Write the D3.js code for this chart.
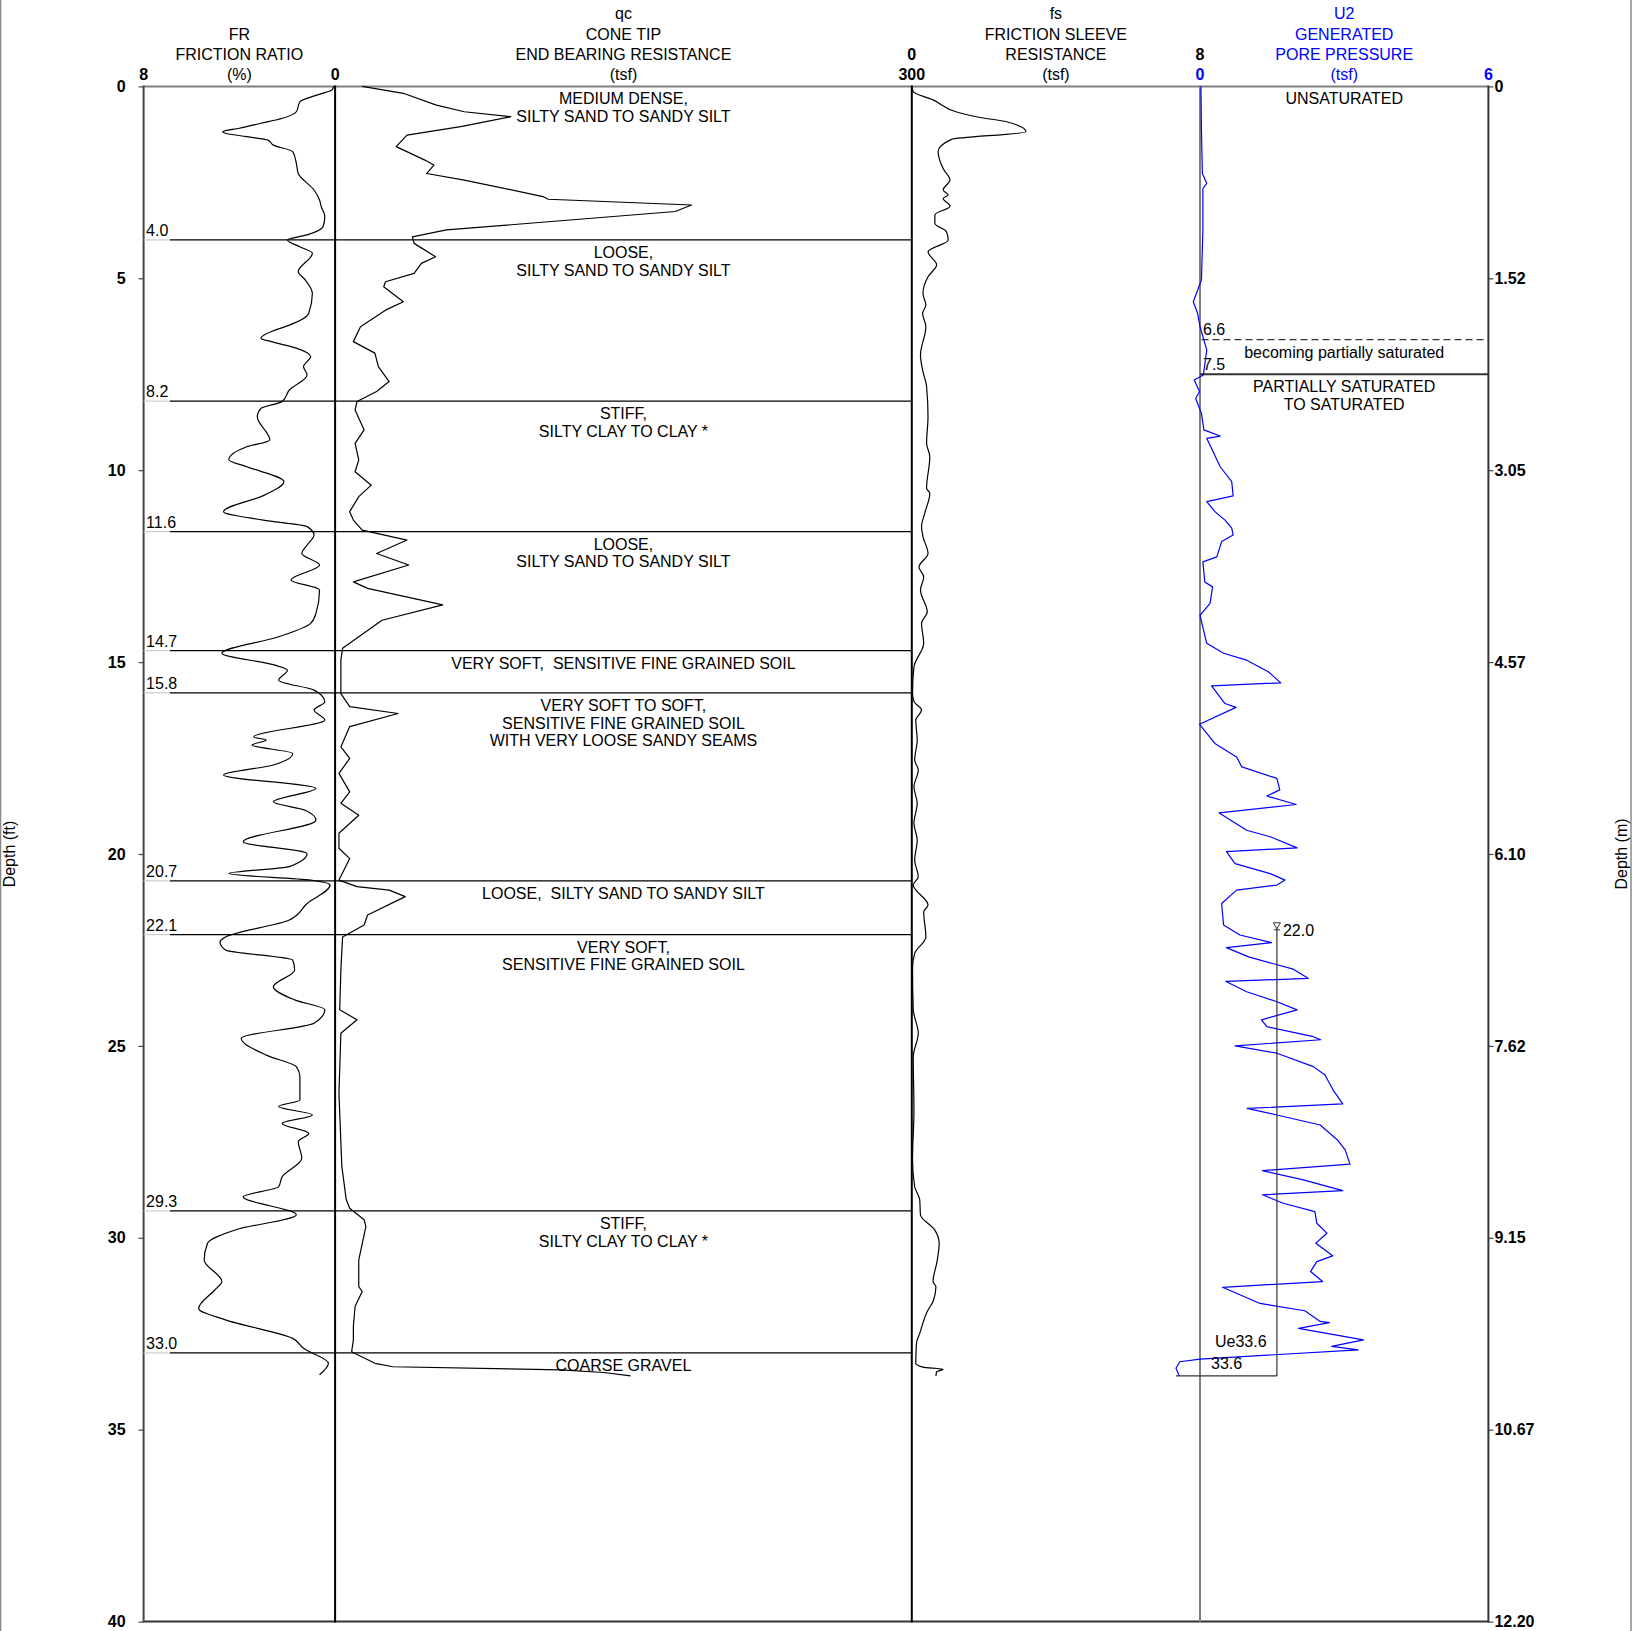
<!DOCTYPE html>
<html>
<head>
<meta charset="utf-8">
<script src="https://cdn.jsdelivr.net/npm/d3@7"></script>
<style>
  body { margin: 0; background: #fff; }
  svg { display: block; font-family: "Liberation Sans", Arial, sans-serif; }
</style>
</head>
<body>
<svg id="chart" width="1632" height="1631"></svg>
<script>
// depth (ft) / value pairs
var frData = [
  [0,0.06],[0.09,0.13],[0.22,0.73],[0.40,1.47],[0.66,1.62],[0.83,2.2],[0.96,3.1],[1.09,4.0],[1.18,4.70],[1.22,4.58],
  [1.31,3.69],[1.40,2.8],[1.53,2.58],[1.70,1.77],[2.0,1.62],[2.27,1.54],[2.7,0.88],[2.96,0.65],[3.13,0.58],[3.39,0.43],
  [3.65,0.50],[3.87,1.17],[4.0,1.99],[4.18,1.47],[4.35,0.95],[4.83,1.54],[5.04,1.25],[5.39,0.95],[5.91,1.10],[6.22,1.91],
  [6.35,2.51],[6.56,3.10],[6.65,2.66],[6.82,1.62],[7.04,1.02],[7.30,1.32],[7.52,1.17],[7.91,1.91],[8.21,2.21],[8.39,3.10],
  [8.61,3.25],[9.21,2.73],[9.39,3.69],[9.73,4.44],[9.91,3.69],[10.30,2.14],[10.65,2.95],[11.08,4.66],[11.30,3.0],[11.47,1.17],
  [11.69,0.88],[11.95,1.17],[12.17,1.39],[12.47,0.65],[12.86,1.84],[13.12,0.65],[13.73,0.80],[13.99,1.02],[14.34,2.36],[14.77,4.73],
  [15.08,2.51],[15.21,1.99],[15.47,2.36],[15.73,0.88],[16.03,0.43],[16.25,0.88],[16.51,0.43],[16.95,3.40],[17.03,2.88],[17.16,3.47],
  [17.38,1.77],[17.68,2.58],[17.94,4.66],[18.29,0.80],[18.64,2.58],[18.86,1.25],[19.12,0.80],[19.68,3.84],[19.99,1.17],[20.33,1.91],
  [20.51,4.44],[20.68,1.02],[20.81,0.21],[21.29,1.17],[21.72,1.91],[22.16,4.58],[22.29,4.81],[22.50,4.58],[22.76,1.77],[23.02,1.69],
  [23.46,2.58],[23.80,1.69],[24.06,0.43],[24.41,0.88],[24.80,3.92],[25.24,2.88],[25.54,1.62],[25.80,1.47],[26.41,1.47],[26.58,2.36],
  [26.80,0.95],[27.02,2.21],[27.28,1.10],[27.49,1.54],[27.93,1.39],[28.41,2.21],[28.67,2.36],[28.93,3.84],[29.40,1.62],[29.79,4.14],
  [30.14,5.33],[30.58,5.47],[31.14,4.73],[31.36,5.03],[31.84,5.70],[32.14,4.58],[32.62,1.77],[32.88,1.32],[33.27,0.28],[33.57,0.65]
];
var qcData = [
  [0,14.1],[0.18,35.5],[0.48,52.3],[0.66,67.2],[0.79,91.4],[1.05,65.3],[1.27,37.4],[1.57,31.8],[1.92,46.7],[2.05,51.4],
  [2.27,47.6],[2.44,67.2],[2.87,108.1],[2.94,110.9],[3.09,185.4],[3.26,177],[3.74,57.9],[3.92,40.2],[4.09,41.1],[4.44,52.3],
  [4.61,44.9],[4.87,41.1],[5.09,26.2],[5.22,25.3],[5.61,35.5],[5.83,26.2],[6.26,13.2],[6.65,9.5],[6.95,20.7],[7.30,22.5],
  [7.69,28.1],[7.95,21.6],[8.21,11.4],[8.43,10.4],[8.95,15.1],[9.30,10.4],[9.73,12.3],[10.04,10.4],[10.39,18.8],[10.69,12.3],
  [11.08,7.6],[11.3,9.5],[11.56,14.1],[11.82,37.4],[12.17,21.6],[12.47,38.3],[12.91,9.5],[13.08,16.9],[13.51,56.0],[13.91,24.4],
  [14.64,3.9],[14.95,3.0],[15.82,3.0],[16.16,7.6],[16.34,32.8],[16.68,7.6],[17.21,3.0],[17.51,7.6],[17.90,2.0],[18.38,7.6],
  [18.68,3.0],[18.99,12.3],[19.46,2.0],[19.85,2.0],[20.12,7.6],[20.68,2.0],[20.85,11.4],[20.94,28.1],[21.11,36.5],[21.59,16.9],
  [21.85,15.1],[22.16,3.9],[23.02,3.0],[24.06,2.4],[24.32,11.4],[24.67,3.0],[26.23,2.0],[28.14,3.5],[29.01,5.8],[29.23,7.6],
  [29.53,15.1],[29.71,16.0],[30.58,12.3],[31.27,12.3],[31.40,14.1],[31.79,10.4],[32.31,9.5],[32.66,9.5],[32.97,8.6],[33.27,20.7],
  [33.36,30.0],[33.44,117.4],[33.51,139.8],[33.60,153.7]
];
var fsData = [
  [0,0],[0.14,0.04],[0.35,0.59],[0.68,1.29],[0.81,1.89],[0.92,2.63],[1.18,3.17],[1.38,1.10],[1.70,0.73],[2.14,0.87],
  [2.44,1.06],[2.70,0.87],[2.83,1.01],[2.92,0.87],[3.12,1.06],[3.35,0.64],[3.57,0.64],[3.78,0.96],[4.00,1.01],[4.31,0.45],
  [4.65,0.69],[4.96,0.45],[5.39,0.31],[5.70,0.39],[5.91,0.30],[6.26,0.39],[7.00,0.24],[7.39,0.30],[7.82,0.41],[8.61,0.45],
  [9.30,0.41],[9.65,0.50],[10.47,0.41],[10.60,0.50],[11.12,0.36],[11.47,0.27],[11.73,0.31],[12.17,0.45],[12.52,0.20],[12.78,0.33],
  [13.12,0.24],[13.69,0.43],[13.99,0.27],[14.51,0.33],[15.12,0.06],[15.82,0.02],[16.03,0.06],[16.25,0.27],[16.51,0.11],[17.03,0.15],
  [17.55,0.08],[17.81,0.18],[18.25,0.06],[18.68,0.15],[19.20,0.06],[19.64,0.15],[20.16,0.08],[20.59,0.18],[20.81,0.04],[21.33,0.45],
  [21.51,0.33],[22.16,0.39],[22.59,0.08],[22.98,0.02],[24.06,0.04],[24.67,0.18],[25.28,0.04],[26.67,0.06],[27.97,0.02],[28.67,0.08],
  [29.01,0.22],[29.40,0.24],[29.80,0.64],[30.14,0.76],[30.62,0.70],[31.14,0.59],[31.27,0.67],[31.66,0.59],[31.88,0.45],[32.49,0.22],
  [32.75,0.13],[33.27,0.11],[33.37,0.31],[33.43,0.87],[33.49,0.69],[33.60,0.67]
];
var u2Data = [
  [0,0.02],[1.14,0.03],[2.27,0.05],[2.53,0.14],[2.66,0.06],[3.74,0.06],[5.04,0.03],[5.61,-0.14],[5.91,-0.05],[6.26,0],
  [6.69,0.10],[6.87,0.14],[7.52,0.07],[7.65,-0.12],[7.95,-0.01],[8.13,-0.09],[8.52,0.03],[8.95,0.08],[9.11,0.42],[9.17,0.14],
  [9.91,0.42],[10.30,0.66],[10.67,0.69],[10.82,0.14],[11.08,0.31],[11.30,0.52],[11.51,0.66],[11.69,0.69],[11.86,0.45],[12.26,0.35],
  [12.39,0.06],[12.91,0.10],[13.04,0.26],[13.47,0.21],[13.78,0],[14.51,0.14],[14.77,0.49],[14.95,0.97],[15.25,1.42],[15.54,1.68],
  [15.62,0.24],[16.08,0.52],[16.18,0.75],[16.62,-0.01],[17.12,0.31],[17.47,0.76],[17.73,0.87],[18.03,1.60],[18.33,1.66],[18.49,1.39],
  [18.71,2.0],[18.93,0.40],[19.38,0.97],[19.55,1.46],[19.84,2.02],[19.94,0.55],[20.25,0.73],[20.51,1.46],[20.68,1.77],[20.81,1.60],
  [20.94,0.76],[21.29,0.45],[21.85,0.49],[22.11,0.83],[22.31,1.49],[22.44,0.55],[22.68,1.01],[23.0,1.94],[23.24,2.25],[23.32,0.54],
  [23.59,0.97],[23.85,1.60],[24.06,2.02],[24.32,1.28],[24.50,1.39],[24.76,2.36],[24.84,2.51],[25.00,0.73],[25.19,1.60],[25.54,2.36],
  [25.76,2.60],[26.15,2.77],[26.51,2.97],[26.63,0.98],[26.80,1.60],[27.06,2.50],[27.45,2.86],[27.71,3.02],[28.08,3.12],[28.25,1.30],
  [28.49,2.15],[28.77,2.97],[28.88,1.30],[29.10,1.73],[29.32,2.39],[29.62,2.43],[29.88,2.64],[30.14,2.41],[30.47,2.76],[30.62,2.43],
  [30.88,2.30],[31.14,2.55],[31.29,0.47],[31.71,1.25],[31.90,2.18],[32.18,2.50],[32.21,2.69],[32.36,2.05],[32.66,3.40],[32.83,2.74],
  [32.92,3.29],[33.16,0],[33.23,-0.42],[33.40,-0.50],[33.60,-0.43]
];

var depthTicks = [0, 5, 10, 15, 20, 25, 30, 35, 40];
var meterLabels = ["0", "1.52", "3.05", "4.57", "6.10", "7.62", "9.15", "10.67", "12.20"];

var layerTops = [0, 4.0, 8.2, 11.6, 14.7, 15.8, 20.7, 22.1, 29.3, 33.0];
var soilNames = [
  ["MEDIUM DENSE,", "SILTY SAND TO SANDY SILT"],
  ["LOOSE,", "SILTY SAND TO SANDY SILT"],
  ["STIFF,", "SILTY CLAY TO CLAY *"],
  ["LOOSE,", "SILTY SAND TO SANDY SILT"],
  ["VERY SOFT,  SENSITIVE FINE GRAINED SOIL"],
  ["VERY SOFT TO SOFT,", "SENSITIVE FINE GRAINED SOIL", "WITH VERY LOOSE SANDY SEAMS"],
  ["LOOSE,  SILTY SAND TO SANDY SILT"],
  ["VERY SOFT,", "SENSITIVE FINE GRAINED SOIL"],
  ["STIFF,", "SILTY CLAY TO CLAY *"],
  ["COARSE GRAVEL"]
];

var satTops = [0, 6.6, 7.5];
var satNames = [["UNSATURATED"], ["becoming partially saturated"], ["PARTIALLY SATURATED", "TO SATURATED"]];

var waterDepth = 22.0, ueDepth = 33.6, ueMark = 1.6, ueStart = -0.5;

var svg = d3.select("#chart");
var blue = "#0000ff";

var y = d3.scaleLinear().domain([0, 40]).range([86.4, 1621.6]);
var xFR = d3.scaleLinear().domain([8, 0]).range([143.6, 335.1]);
var xQc = d3.scaleLinear().domain([0, 300]).range([335.1, 911.8]);
var xFs = d3.scaleLinear().domain([0, 8]).range([911.8, 1200]);
var xU = d3.scaleLinear().domain([0, 6]).range([1200, 1488.4]);

// page frame
svg.append("line").attr("x1", 0.5).attr("x2", 0.5).attr("y1", 0).attr("y2", 1631).attr("stroke", "#888").attr("stroke-width", 1.5);
svg.append("line").attr("x1", 1631).attr("x2", 1631).attr("y1", 0).attr("y2", 1631).attr("stroke", "#888").attr("stroke-width", 1.5);

// depth axes
var leftAxis = svg.append("g").attr("transform", "translate(" + xFR(8) + ",0)")
  .call(d3.axisLeft(y).tickValues(depthTicks).tickSize(5).tickPadding(13));
var rightAxis = svg.append("g").attr("transform", "translate(" + xU(6) + ",0)")
  .call(d3.axisRight(y).tickValues(depthTicks).tickSize(5).tickPadding(1)
    .tickFormat(function(d, i) { return meterLabels[i]; }));
[leftAxis, rightAxis].forEach(function(g) {
  g.select(".domain").remove();
  g.selectAll(".tick line").attr("stroke", "#444").attr("stroke-width", 1.2);
  g.selectAll(".tick text").attr("font-size", 16).attr("font-weight", "bold")
    .attr("font-family", "Liberation Sans, Arial, sans-serif").attr("fill", "#000");
});

// panel frame
var yTop = y(0), yBot = y(40);
svg.append("line").attr("x1", xFR(8)).attr("x2", xU(6)).attr("y1", yTop).attr("y2", yTop).attr("stroke", "#808080").attr("stroke-width", 2);
svg.append("line").attr("x1", xFR(8)).attr("x2", xU(6)).attr("y1", yBot).attr("y2", yBot).attr("stroke", "#333").attr("stroke-width", 2);
var borders = [
  { x: xFR(8), c: "#444" }, { x: xFR(0), c: "#000" }, { x: xFs(0), c: "#000" },
  { x: xU(0), c: "#808080" }, { x: xU(6), c: "#333" }
];
svg.selectAll(".border").data(borders).enter().append("line")
  .attr("x1", function(d) { return d.x; }).attr("x2", function(d) { return d.x; })
  .attr("y1", yTop - 1).attr("y2", yBot + 1)
  .attr("stroke", function(d) { return d.c; }).attr("stroke-width", 2);

// header text
var rows = [19, 39.5, 60, 80];
var headers = [
  { x: (xFR(8) + xFR(0)) / 2, lines: ["FR", "FRICTION RATIO", "(%)"], row0: 1, c: "#000" },
  { x: (xQc(0) + xQc(300)) / 2, lines: ["qc", "CONE TIP", "END BEARING RESISTANCE", "(tsf)"], row0: 0, c: "#000" },
  { x: (xFs(0) + xFs(8)) / 2, lines: ["fs", "FRICTION SLEEVE", "RESISTANCE", "(tsf)"], row0: 0, c: "#000" },
  { x: (xU(0) + xU(6)) / 2, lines: ["U2", "GENERATED", "PORE PRESSURE", "(tsf)"], row0: 0, c: blue }
];
headers.forEach(function(h) {
  h.lines.forEach(function(t, i) {
    svg.append("text").attr("x", h.x).attr("y", rows[h.row0 + i]).attr("text-anchor", "middle")
      .attr("font-size", 16).attr("fill", h.c).text(t);
  });
});
var scaleEnds = [
  { x: xFR(8), row: 3, t: "8", c: "#000" }, { x: xFR(0), row: 3, t: "0", c: "#000" },
  { x: xQc(300), row: 3, t: "300", c: "#000" }, { x: xFs(0), row: 2, t: "0", c: "#000" },
  { x: xFs(8), row: 2, t: "8", c: "#000" }, { x: xU(0), row: 3, t: "0", c: blue },
  { x: xU(6), row: 3, t: "6", c: blue }
];
svg.selectAll(".end").data(scaleEnds).enter().append("text")
  .attr("x", function(d) { return d.x; }).attr("y", function(d) { return rows[d.row]; })
  .attr("text-anchor", "middle").attr("font-size", 16).attr("font-weight", "bold")
  .attr("fill", function(d) { return d.c; }).text(function(d) { return d.t; });

// rotated depth titles
svg.append("text").attr("transform", "translate(15," + (yTop + yBot) / 2 + ") rotate(-90)")
  .attr("text-anchor", "middle").attr("font-size", 16).text("Depth (ft)");
svg.append("text").attr("transform", "translate(1627," + (yTop + yBot) / 2 + ") rotate(-90)")
  .attr("text-anchor", "middle").attr("font-size", 16).text("Depth (m)");

// soil layer boundaries
var bounds = layerTops.slice(1);
svg.selectAll(".lyr-grey").data(bounds).enter().append("line")
  .attr("x1", xFR(8)).attr("x2", 170).attr("y1", y).attr("y2", y)
  .attr("stroke", "#ccc").attr("stroke-width", 1.2);
svg.selectAll(".lyr").data(bounds).enter().append("line")
  .attr("x1", 170).attr("x2", xFs(0)).attr("y1", y).attr("y2", y)
  .attr("stroke", "#000").attr("stroke-width", 1.3);
svg.selectAll(".lyr-lab").data(bounds).enter().append("text")
  .attr("x", xFR(8) + 2.5).attr("y", function(d) { return y(d) - 4; })
  .attr("font-size", 16).text(function(d) { return d.toFixed(1); });

soilNames.forEach(function(lines, k) {
  lines.forEach(function(t, i) {
    svg.append("text").attr("x", (xQc(0) + xQc(300)) / 2).attr("y", y(layerTops[k]) + 18 + i * 17.7)
      .attr("text-anchor", "middle").attr("font-size", 16)
      .style("white-space", "pre").text(t);
  });
});

// saturation zones in U2 panel
svg.append("line").attr("x1", xU(0) + 1.5).attr("x2", xU(6) - 2).attr("y1", y(satTops[1])).attr("y2", y(satTops[1]))
  .attr("stroke", "#333").attr("stroke-width", 1.2).attr("stroke-dasharray", "7,4");
svg.append("line").attr("x1", xU(0)).attr("x2", xU(6)).attr("y1", y(satTops[2])).attr("y2", y(satTops[2]))
  .attr("stroke", "#333").attr("stroke-width", 2);
[satTops[1], satTops[2]].forEach(function(d) {
  svg.append("text").attr("x", xU(0) + 3).attr("y", y(d) - 4.5).attr("font-size", 16).text(d.toFixed(1));
});
satNames.forEach(function(lines, k) {
  lines.forEach(function(t, i) {
    svg.append("text").attr("x", (xU(0) + xU(6)) / 2).attr("y", y(satTops[k]) + 18 + i * 17.7)
      .attr("text-anchor", "middle").attr("font-size", 16).text(t);
  });
});

// curves
function curve(data, xs, color, c) {
  svg.append("path").datum(data)
    .attr("d", d3.line().curve(c || d3.curveLinear)
      .x(function(d) { return xs(d[1]); }).y(function(d) { return y(d[0]); }))
    .attr("fill", "none").attr("stroke", color).attr("stroke-width", 1.2).attr("stroke-linejoin", "round");
}
curve(frData, xFR, "#000", d3.curveMonotoneY);
curve(qcData, xQc, "#000");
curve(fsData, xFs, "#000", d3.curveMonotoneY);
curve(u2Data, xU, blue);

// water level / Ue marker
var wx = xU(ueMark), wy = y(waterDepth);
svg.append("line").attr("x1", wx).attr("x2", wx).attr("y1", wy - 7).attr("y2", y(ueDepth)).attr("stroke", "#333").attr("stroke-width", 1.2);
svg.append("line").attr("x1", xU(ueStart)).attr("x2", wx).attr("y1", y(ueDepth)).attr("y2", y(ueDepth)).attr("stroke", "#333").attr("stroke-width", 1.2);
svg.append("path").attr("d", "M" + (wx - 3.5) + "," + (wy - 8) + "L" + (wx + 3.5) + "," + (wy - 8) + "L" + wx + "," + (wy - 2) + "Z")
  .attr("fill", "#fff").attr("stroke", "#333").attr("stroke-width", 1);
svg.append("line").attr("x1", wx - 3).attr("x2", wx + 3).attr("y1", wy - 1).attr("y2", wy - 1).attr("stroke", "#333").attr("stroke-width", 1);
svg.append("text").attr("x", wx + 6).attr("y", wy + 5).attr("font-size", 16).text(waterDepth.toFixed(1));
svg.append("text").attr("x", xU(0) + 15).attr("y", y(ueDepth) - 29).attr("font-size", 16).text("Ue" + ueDepth.toFixed(1));
svg.append("text").attr("x", xU(0) + 11).attr("y", y(ueDepth) - 7).attr("font-size", 16).text(ueDepth.toFixed(1));
</script>
</body>
</html>
